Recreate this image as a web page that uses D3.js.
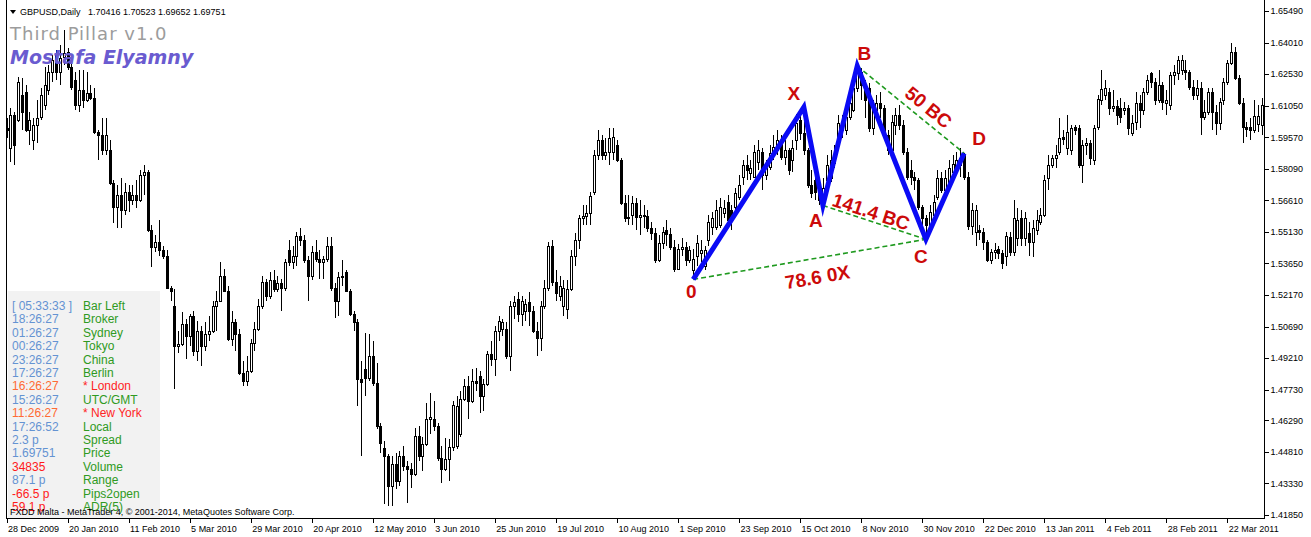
<!DOCTYPE html>
<html>
<head>
<meta charset="utf-8">
<script src="https://cdn.jsdelivr.net/npm/d3@7"></script>
<style>
  body { margin: 0; background: #fff; }
  svg { display: block; }
</style>
</head>
<body>
<svg id="chart" width="1311" height="537"></svg>
<script>
// GBPUSD daily bars, 28 Dec 2009 onwards
const openP = [
1.5999,1.5905,1.6060,1.6037,1.6154,1.6169,1.5990,1.5943,1.6013,1.6051,
1.6107,1.6178,1.6263,1.6342,1.6263,1.6333,1.6357,1.6286,1.6225,1.6107,
1.6178,1.6131,1.6164,1.6140,1.5981,1.5966,1.5896,1.5896,1.5741,1.5628,
1.5684,1.5614,1.5699,1.5661,1.5684,1.5661,1.5778,1.5793,1.5520,1.5440,
1.5464,1.5426,1.5402,1.5252,1.5167,1.4979,1.4989,1.5083,1.5026,1.5120,
1.4956,1.5050,1.4979,1.5036,1.5050,1.5167,1.5191,1.5308,1.5238,1.5012,
1.5088,1.5036,1.4853,1.4815,1.4862,1.4994,1.5059,1.5167,1.5276,1.5214,
1.5285,1.5247,1.5271,1.5252,1.5426,1.5370,1.5402,1.5492,1.5473,1.5379,
1.5308,1.5417,1.5388,1.5370,1.5388,1.5449,1.5252,1.5191,1.5299,1.5323,
1.5238,1.5130,1.5088,1.4824,1.4871,1.4829,1.4932,1.4806,1.4603,1.4500,
1.4462,1.4321,1.4425,1.4345,1.4462,1.4415,1.4401,1.4378,1.4556,1.4462,
1.4519,1.4636,1.4636,1.4603,1.4453,1.4401,1.4448,1.4505,1.4509,1.4566,
1.4730,1.4791,1.4721,1.4815,1.4838,1.4744,1.4801,1.4942,1.4918,1.5050,
1.5059,1.5059,1.4932,1.5167,1.5200,1.5130,1.5144,1.5182,1.5144,1.5050,
1.5017,1.5167,1.5252,1.5449,1.5276,1.5214,1.5167,1.5153,1.5247,1.5402,
1.5473,1.5576,1.5586,1.5600,1.5699,1.5872,1.5943,1.5872,1.5887,1.5887,
1.5919,1.5849,1.5647,1.5576,1.5590,1.5647,1.5581,1.5590,1.5586,1.5529,
1.5506,1.5379,1.5459,1.5520,1.5501,1.5440,1.5341,1.5435,1.5440,1.5379,
1.5332,1.5402,1.5412,1.5355,1.5473,1.5534,1.5534,1.5543,1.5600,1.5652,
1.5614,1.5628,1.5675,1.5769,1.5825,1.5788,1.5769,1.5840,1.5887,1.5778,
1.5816,1.5882,1.5896,1.5934,1.5863,1.5896,1.5849,1.5943,1.6037,1.5976,
1.5896,1.5731,1.5755,1.5699,1.5661,1.5755,1.5764,1.5835,1.5943,1.5990,
1.5990,1.6051,1.6084,1.6187,1.6263,1.6201,1.6187,1.5999,1.6084,1.6117,
1.6093,1.5966,1.5896,1.6013,1.6060,1.6013,1.5887,1.5802,1.5769,1.5755,
1.5628,1.5576,1.5543,1.5590,1.5675,1.5764,1.5708,1.5741,1.5793,1.5811,
1.5825,1.5872,1.5769,1.5539,1.5511,1.5520,1.5511,1.5464,1.5379,1.5417,
1.5435,1.5412,1.5402,1.5487,1.5417,1.5482,1.5576,1.5482,1.5506,1.5464,
1.5520,1.5557,1.5590,1.5764,1.5825,1.5858,1.5887,1.5957,1.5905,1.5896,
1.6004,1.5999,1.5825,1.5919,1.5929,1.5849,1.6004,1.6131,1.6154,1.6169,
1.6093,1.6103,1.6093,1.6084,1.6093,1.5976,1.6028,1.6117,1.6084,1.6169,
1.6258,1.6216,1.6131,1.6201,1.6117,1.6107,1.6249,1.6258,1.6272,1.6272,
1.6263,1.6192,1.6154,1.6187,1.6051,1.6075,1.6169,1.6075,1.6023,1.6131,
1.6216,1.6305,1.6357,1.6234,1.6117,1.6004,1.6004,1.5990,1.6018,1.6013
];
const highP = [
1.6046,1.6093,1.6075,1.6239,1.6234,1.6201,1.6075,1.6046,1.6131,1.6187,
1.6286,1.6295,1.6342,1.6366,1.6389,1.6460,1.6375,1.6319,1.6263,1.6272,
1.6272,1.6263,1.6201,1.6187,1.5990,1.6046,1.6046,1.5943,1.5755,1.5731,
1.5764,1.5741,1.5731,1.5731,1.5755,1.5802,1.5825,1.5802,1.5543,1.5496,
1.5567,1.5449,1.5426,1.5261,1.5247,1.5050,1.5135,1.5106,1.5130,1.5144,
1.5097,1.5073,1.5088,1.5120,1.5191,1.5238,1.5370,1.5341,1.5261,1.5144,
1.5106,1.5059,1.4909,1.4932,1.5012,1.5088,1.5200,1.5308,1.5294,1.5323,
1.5332,1.5308,1.5294,1.5388,1.5473,1.5449,1.5511,1.5529,1.5496,1.5402,
1.5449,1.5473,1.5426,1.5402,1.5487,1.5487,1.5271,1.5323,1.5379,1.5332,
1.5247,1.5144,1.5106,1.4909,1.5041,1.5036,1.5003,1.4900,1.4618,1.4533,
1.4472,1.4462,1.4477,1.4486,1.4509,1.4439,1.4430,1.4594,1.4603,1.4552,
1.4712,1.4759,1.4721,1.4618,1.4509,1.4547,1.4542,1.4721,1.4744,1.4768,
1.4824,1.4838,1.4871,1.4876,1.4862,1.4824,1.4956,1.5003,1.5073,1.5120,
1.5106,1.5088,1.5191,1.5214,1.5229,1.5214,1.5200,1.5229,1.5167,1.5088,
1.5191,1.5285,1.5464,1.5473,1.5332,1.5308,1.5285,1.5285,1.5426,1.5506,
1.5590,1.5637,1.5637,1.5699,1.5896,1.5990,1.5966,1.5952,1.5999,1.5999,
1.5943,1.5858,1.5684,1.5684,1.5680,1.5670,1.5661,1.5637,1.5614,1.5557,
1.5529,1.5496,1.5534,1.5567,1.5529,1.5473,1.5454,1.5482,1.5464,1.5449,
1.5435,1.5496,1.5473,1.5449,1.5590,1.5605,1.5661,1.5670,1.5661,1.5684,
1.5637,1.5717,1.5778,1.5849,1.5872,1.5849,1.5919,1.5943,1.5905,1.5849,
1.5919,1.5966,1.5990,1.5966,1.5943,1.5906,1.5943,1.6065,1.6084,1.6098,
1.5906,1.5802,1.5849,1.5731,1.5764,1.5872,1.5896,1.5919,1.6060,1.6060,
1.6093,1.6154,1.6225,1.6291,1.6281,1.6225,1.6211,1.6131,1.6154,1.6169,
1.6107,1.5990,1.6060,1.6093,1.6107,1.6037,1.5906,1.5849,1.5793,1.5764,
1.5637,1.5590,1.5637,1.5684,1.5802,1.5793,1.5802,1.5849,1.5872,1.5887,
1.5906,1.5882,1.5793,1.5647,1.5637,1.5543,1.5529,1.5473,1.5435,1.5459,
1.5449,1.5426,1.5511,1.5511,1.5661,1.5623,1.5614,1.5605,1.5557,1.5567,
1.5614,1.5623,1.5778,1.5872,1.5872,1.5919,1.6046,1.5990,1.6060,1.6013,
1.6013,1.6013,1.5943,1.5952,1.5943,1.6013,1.6154,1.6272,1.6225,1.6187,
1.6178,1.6131,1.6140,1.6122,1.6107,1.6060,1.6169,1.6154,1.6187,1.6249,
1.6263,1.6234,1.6272,1.6216,1.6178,1.6263,1.6295,1.6338,1.6342,1.6319,
1.6272,1.6225,1.6225,1.6216,1.6131,1.6187,1.6187,1.6107,1.6140,1.6234,
1.6319,1.6399,1.6380,1.6249,1.6140,1.6028,1.6046,1.6131,1.6107,1.6140
];
const lowP = [
1.5952,1.5840,1.5825,1.6028,1.5990,1.5981,1.5919,1.5896,1.5929,1.6037,
1.6084,1.6154,1.6216,1.6225,1.6201,1.6295,1.6272,1.6178,1.6084,1.6075,
1.6093,1.6122,1.6131,1.5971,1.5849,1.5872,1.5872,1.5731,1.5553,1.5529,
1.5529,1.5590,1.5605,1.5637,1.5623,1.5652,1.5684,1.5511,1.5346,1.5417,
1.5402,1.5388,1.5247,1.5191,1.4777,1.4947,1.4979,1.4918,1.4979,1.4932,
1.4909,1.4885,1.4956,1.5003,1.5041,1.5050,1.5182,1.5229,1.5003,1.4979,
1.4956,1.4843,1.4791,1.4791,1.4853,1.4956,1.5050,1.5153,1.5191,1.5200,
1.5229,1.5229,1.5144,1.5238,1.5355,1.5341,1.5355,1.5449,1.5365,1.5191,
1.5285,1.5370,1.5294,1.5294,1.5370,1.5238,1.5111,1.5120,1.5261,1.5229,
1.5120,1.5050,1.4697,1.4462,1.4744,1.4815,1.4791,1.4589,1.4477,1.4237,
1.4227,1.4227,1.4307,1.4321,1.4392,1.4242,1.4312,1.4368,1.4439,1.4392,
1.4509,1.4566,1.4580,1.4439,1.4336,1.4392,1.4345,1.4486,1.4495,1.4552,
1.4721,1.4636,1.4712,1.4768,1.4665,1.4674,1.4791,1.4885,1.4838,1.5003,
1.5026,1.4918,1.4862,1.5106,1.5088,1.5073,1.5097,1.5073,1.5041,1.4932,
1.4956,1.5153,1.5238,1.5261,1.5191,1.5191,1.5120,1.5106,1.5238,1.5355,
1.5435,1.5543,1.5543,1.5543,1.5684,1.5849,1.5849,1.5849,1.5825,1.5849,
1.5840,1.5637,1.5557,1.5543,1.5543,1.5520,1.5496,1.5529,1.5511,1.5473,
1.5365,1.5370,1.5435,1.5449,1.5426,1.5323,1.5332,1.5402,1.5355,1.5365,
1.5290,1.5355,1.5370,1.5332,1.5449,1.5496,1.5520,1.5529,1.5576,1.5543,
1.5520,1.5614,1.5661,1.5731,1.5755,1.5755,1.5778,1.5802,1.5708,1.5755,
1.5802,1.5849,1.5872,1.5849,1.5825,1.5778,1.5793,1.5896,1.5943,1.5872,
1.5717,1.5670,1.5661,1.5637,1.5637,1.5731,1.5745,1.5811,1.5919,1.5952,
1.5966,1.6037,1.6075,1.6169,1.6131,1.6046,1.5981,1.5966,1.6060,1.6046,
1.5952,1.5872,1.5887,1.5966,1.5990,1.5872,1.5755,1.5731,1.5708,1.5614,
1.5529,1.5478,1.5520,1.5543,1.5661,1.5694,1.5684,1.5717,1.5769,1.5793,
1.5769,1.5755,1.5520,1.5496,1.5445,1.5473,1.5426,1.5370,1.5360,1.5388,
1.5388,1.5341,1.5355,1.5402,1.5402,1.5449,1.5449,1.5449,1.5402,1.5397,
1.5496,1.5543,1.5581,1.5708,1.5811,1.5811,1.5872,1.5919,1.5872,1.5872,
1.5966,1.5811,1.5741,1.5872,1.5825,1.5825,1.5990,1.6107,1.6131,1.6060,
1.6075,1.6013,1.6023,1.6060,1.5966,1.5962,1.5990,1.5999,1.6060,1.6154,
1.6187,1.6107,1.6117,1.6084,1.6060,1.6084,1.6201,1.6225,1.6249,1.6225,
1.6178,1.6131,1.6131,1.5966,1.6037,1.6060,1.5990,1.5966,1.5990,1.6107,
1.6201,1.6295,1.6225,1.6107,1.5929,1.5957,1.5943,1.5976,1.5981,1.5966
];
const closeP = [
1.5990,1.6060,1.5919,1.6216,1.6075,1.5990,1.6037,1.6013,1.6046,1.6154,
1.6201,1.6263,1.6319,1.6263,1.6328,1.6352,1.6286,1.6192,1.6107,1.6178,
1.6131,1.6164,1.6140,1.5981,1.5966,1.5896,1.5966,1.5741,1.5628,1.5684,
1.5614,1.5699,1.5661,1.5684,1.5661,1.5778,1.5793,1.5520,1.5440,1.5464,
1.5426,1.5402,1.5252,1.5238,1.4979,1.4989,1.5083,1.5026,1.5120,1.4956,
1.5050,1.4979,1.5036,1.5050,1.5167,1.5191,1.5308,1.5238,1.5012,1.5088,
1.5036,1.4853,1.4815,1.4862,1.4994,1.5059,1.5167,1.5276,1.5214,1.5285,
1.5247,1.5271,1.5252,1.5370,1.5370,1.5402,1.5492,1.5473,1.5379,1.5308,
1.5417,1.5388,1.5370,1.5388,1.5445,1.5252,1.5191,1.5299,1.5304,1.5238,
1.5130,1.5088,1.4824,1.4810,1.4829,1.4932,1.4806,1.4603,1.4524,1.4462,
1.4321,1.4425,1.4345,1.4462,1.4415,1.4401,1.4378,1.4556,1.4462,1.4519,
1.4636,1.4646,1.4603,1.4453,1.4401,1.4448,1.4505,1.4702,1.4697,1.4730,
1.4791,1.4721,1.4815,1.4806,1.4744,1.4801,1.4942,1.4918,1.5050,1.5097,
1.5088,1.4932,1.5167,1.5182,1.5130,1.5191,1.5177,1.5144,1.5050,1.5017,
1.5167,1.5252,1.5449,1.5276,1.5224,1.5261,1.5252,1.5247,1.5402,1.5473,
1.5576,1.5586,1.5600,1.5680,1.5872,1.5943,1.5872,1.5887,1.5952,1.5957,
1.5849,1.5647,1.5576,1.5581,1.5647,1.5581,1.5590,1.5586,1.5529,1.5506,
1.5379,1.5459,1.5511,1.5501,1.5440,1.5341,1.5435,1.5440,1.5379,1.5426,
1.5388,1.5459,1.5426,1.5426,1.5557,1.5576,1.5614,1.5628,1.5623,1.5567,
1.5567,1.5694,1.5731,1.5825,1.5802,1.5811,1.5887,1.5896,1.5778,1.5811,
1.5882,1.5910,1.5943,1.5863,1.5896,1.5802,1.5905,1.6023,1.5976,1.5896,
1.5731,1.5694,1.5699,1.5661,1.5717,1.5825,1.5849,1.5872,1.6023,1.6013,
1.6051,1.6117,1.6187,1.6263,1.6201,1.6131,1.5999,1.6084,1.6117,1.6093,
1.5966,1.5896,1.6028,1.6060,1.6013,1.5887,1.5769,1.5769,1.5755,1.5628,
1.5576,1.5543,1.5605,1.5652,1.5764,1.5708,1.5764,1.5811,1.5830,1.5849,
1.5858,1.5769,1.5539,1.5614,1.5614,1.5511,1.5464,1.5379,1.5417,1.5426,
1.5412,1.5365,1.5492,1.5417,1.5576,1.5567,1.5482,1.5576,1.5464,1.5529,
1.5567,1.5590,1.5755,1.5825,1.5858,1.5872,1.5952,1.5948,1.5981,1.5999,
1.5990,1.5825,1.5919,1.5929,1.5858,1.5999,1.6136,1.6183,1.6187,1.6093,
1.6103,1.6060,1.6051,1.6093,1.5999,1.6023,1.6117,1.6084,1.6169,1.6225,
1.6216,1.6131,1.6201,1.6122,1.6131,1.6249,1.6263,1.6319,1.6319,1.6263,
1.6192,1.6154,1.6187,1.6051,1.6075,1.6169,1.6075,1.6023,1.6122,1.6216,
1.6305,1.6357,1.6234,1.6117,1.6004,1.5995,1.5990,1.6056,1.6056,1.6107
];

// time axis: one label every 16 bars
const dateLabels = ['28 Dec 2009','20 Jan 2010','11 Feb 2010','5 Mar 2010','29 Mar 2010','20 Apr 2010',
  '12 May 2010','3 Jun 2010','25 Jun 2010','19 Jul 2010','10 Aug 2010','1 Sep 2010','23 Sep 2010',
  '15 Oct 2010','8 Nov 2010','30 Nov 2010','22 Dec 2010','13 Jan 2011','4 Feb 2011','28 Feb 2011','22 Mar 2011'];
const dateLabelStep = 16;

// price axis labels
const priceTicks = [1.65490,1.64010,1.62530,1.61050,1.59570,1.58090,1.56610,1.55130,1.53650,
  1.52170,1.50690,1.49210,1.47730,1.46290,1.44810,1.43330,1.41850];

// harmonic pattern pivots (bar index and which extreme of that bar)
const patternNames = ['0','X','A','B','C','D'];
const patternBars  = [180, 209, 214, 223, 241, 251];
const patternSides = ['low','high','low','high','low','high'];

// ratio projections between pivots
const ratioText = ['78.6 0X','141.4 BC','50 BC'];
const ratioFrom = ['0','A','B'];
const ratioTo   = ['C','C','D'];

// info panel
const infoValues = ['[ 05:33:33 ]','18:26:27','01:26:27','00:26:27','23:26:27','17:26:27','16:26:27',
  '15:26:27','11:26:27','17:26:52','2.3 p','1.69751','34835','87.1 p','-66.5 p','59.1 p'];
const infoNames = ['Bar Left','Broker','Sydney','Tokyo','China','Berlin','* London','UTC/GMT',
  '* New York','Local','Spread','Price','Volume','Range','Pips2open','ADR(5)'];

const symbolTitle = 'GBPUSD,Daily';
const lastQuote = '1.70416 1.70523 1.69652 1.69751';
const footerText = 'FXDD Malta - MetaTrader 4, \u00A9 2001-2014, MetaQuotes Software Corp.';

const FONT = '"Liberation Sans", Arial, sans-serif';
const svg = d3.select('#chart');
const N = closeP.length;

const plotLeft = 6.5, plotRight = 1264.5, plotBottom = 518.5, barStep = 3.815;
const x = d3.scaleLinear().domain([0, N - 1]).range([plotLeft, plotLeft + barStep * (N - 1)]);
const y = d3.scaleLinear().domain([1.4185, 1.6549]).range([515, 11]);

const bars = d3.range(N).map(i => ({ i, o: openP[i], h: highP[i], l: lowP[i], c: closeP[i] }));

// frame
const frame = svg.append('g').attr('stroke', '#000').attr('shape-rendering', 'crispEdges');
frame.append('line').attr('x1', plotLeft).attr('x2', plotLeft).attr('y1', 0).attr('y2', plotBottom);
frame.append('line').attr('x1', plotRight).attr('x2', plotRight).attr('y1', 0).attr('y2', plotBottom);
frame.append('line').attr('x1', plotLeft).attr('x2', plotRight).attr('y1', plotBottom).attr('y2', plotBottom);

// candles
const cg = svg.append('g').attr('shape-rendering', 'crispEdges');
const px = d => Math.round(x(d.i));
cg.selectAll('line.wick').data(bars).join('line').attr('class', 'wick')
  .attr('x1', d => px(d) + 0.5).attr('x2', d => px(d) + 0.5)
  .attr('y1', d => y(Math.max(d.h, d.o, d.c))).attr('y2', d => y(Math.min(d.l, d.o, d.c)))
  .attr('stroke', '#000');
cg.selectAll('rect.body').data(bars).join('rect').attr('class', 'body')
  .attr('x', d => px(d) - 0.5).attr('width', 2)
  .attr('y', d => Math.round(y(Math.max(d.o, d.c))) + 0.5)
  .attr('height', d => Math.max(0, Math.round(y(Math.min(d.o, d.c))) - Math.round(y(Math.max(d.o, d.c)))))
  .attr('fill', d => d.c >= d.o ? '#fff' : '#000')
  .attr('stroke', '#000');

// price axis
const yAxis = d3.axisRight(y).tickValues(priceTicks).tickFormat(d => d.toFixed(5)).tickSize(4).tickPadding(2);
svg.append('g').attr('transform', `translate(${plotRight},0)`).call(yAxis)
  .attr('font-family', FONT).attr('font-size', 9)
  .call(g => g.select('.domain').remove())
  .call(g => g.selectAll('.tick line').attr('stroke', '#000').attr('shape-rendering', 'crispEdges'))
  .call(g => g.selectAll('.tick text').attr('fill', '#000'));

// time axis
const xAxis = d3.axisBottom(x)
  .tickValues(dateLabels.map((_, k) => k * dateLabelStep))
  .tickFormat(d => dateLabels[d / dateLabelStep])
  .tickSize(4).tickPadding(3);
svg.append('g').attr('transform', `translate(0,${plotBottom})`).call(xAxis)
  .attr('font-family', FONT).attr('font-size', 9)
  .call(g => g.select('.domain').remove())
  .call(g => g.selectAll('.tick line').attr('stroke', '#000').attr('shape-rendering', 'crispEdges'))
  .call(g => g.selectAll('.tick text').attr('fill', '#000').attr('text-anchor', 'start').attr('dx', 1));

// pattern pivots
const pts = patternNames.map((name, k) => {
  const b = patternBars[k];
  const price = patternSides[k] === 'high' ? highP[b] : lowP[b];
  return { name, x: x(b), y: y(price) };
});
const byName = Object.fromEntries(pts.map(p => [p.name, p]));

// dashed projection lines
const pg = svg.append('g');
ratioFrom.forEach((f, k) => {
  const a = byName[f], b = byName[ratioTo[k]];
  pg.append('line').attr('x1', a.x).attr('y1', a.y).attr('x2', b.x).attr('y2', b.y)
    .attr('stroke', '#1f9a1f').attr('stroke-width', 1.6).attr('stroke-dasharray', '5,3');
});

// zigzag
pg.append('path').datum(pts)
  .attr('d', d3.line().x(d => d.x).y(d => d.y))
  .attr('fill', 'none').attr('stroke', '#0a0af5').attr('stroke-width', 5)
  .attr('stroke-linejoin', 'miter').attr('stroke-miterlimit', 6);

// pivot letters
const letterOffset = { '0': [-2, 19], 'X': [-10, -7], 'A': [-7, 22], 'B': [7, -6], 'C': [-5, 24], 'D': [15, -8] };
pg.selectAll('text.pivot').data(pts).join('text').attr('class', 'pivot')
  .attr('x', d => d.x + letterOffset[d.name][0]).attr('y', d => d.y + letterOffset[d.name][1])
  .attr('text-anchor', 'middle').attr('font-family', FONT).attr('font-weight', 'bold')
  .attr('font-size', 19).attr('fill', '#cc0a0a').text(d => d.name);

// ratio labels placed along their segment
const ratioPlace = [[0.52, 19], [0.44, -9], [0.59, -13]];
ratioText.forEach((t, k) => {
  const a = byName[ratioFrom[k]], b = byName[ratioTo[k]];
  const dx = b.x - a.x, dy = b.y - a.y, len = Math.hypot(dx, dy);
  const ux = dx / len, uy = dy / len;
  const [s, n] = ratioPlace[k];
  const cx = a.x + dx * s - uy * n, cy = a.y + dy * s + ux * n;
  const ang = Math.atan2(dy, dx) * 180 / Math.PI;
  pg.append('text').attr('transform', `translate(${cx},${cy}) rotate(${ang})`)
    .attr('text-anchor', 'middle').attr('dominant-baseline', 'central')
    .attr('font-family', FONT).attr('font-weight', 'bold').attr('font-size', 19)
    .attr('fill', '#cc0a0a').text(t);
});

// header
svg.append('path').attr('d', 'M10,10 L16,10 L13,14 Z').attr('fill', '#000');
svg.append('text').attr('x', 20).attr('y', 15).attr('font-family', FONT).attr('font-size', 9)
  .attr('fill', '#000').text(symbolTitle);
svg.append('text').attr('x', 88).attr('y', 15).attr('font-family', FONT).attr('font-size', 9)
  .attr('fill', '#000').text(lastQuote);
svg.append('text').attr('x', 10).attr('y', 40).attr('font-family', '"DejaVu Sans", sans-serif')
  .attr('font-size', 18).attr('letter-spacing', 1).attr('fill', '#9c9c9c').text('Third Pillar v1.0');
svg.append('text').attr('x', 10).attr('y', 64).attr('font-family', '"DejaVu Sans", sans-serif')
  .attr('font-size', 19).attr('font-weight', 'bold').attr('font-style', 'italic')
  .attr('fill', '#6a5bd0').text('Mostafa Elyamny');

// info panel
const panel = svg.append('g');
panel.append('rect').attr('x', 8).attr('y', 291).attr('width', 152).attr('height', 227).attr('fill', '#f2f2f2');
const sessionRows = new Set(['* London', '* New York']);
const alertRows = new Set(['Volume', 'Pips2open', 'ADR(5)']);
infoNames.forEach((name, k) => {
  const yy = 310 + k * 13.4;
  const valColor = sessionRows.has(name) ? '#ff6a33' : alertRows.has(name) ? '#ff1a1a' : '#6493d2';
  const nameColor = sessionRows.has(name) ? '#ff2424' : '#2f9a22';
  panel.append('text').attr('x', 12).attr('y', yy).attr('font-family', FONT).attr('font-size', 12)
    .attr('fill', valColor).text(infoValues[k]);
  panel.append('text').attr('x', 83).attr('y', yy).attr('font-family', FONT).attr('font-size', 12)
    .attr('fill', nameColor).text(name);
});

// footer
svg.append('text').attr('x', 10).attr('y', 515).attr('font-family', FONT).attr('font-size', 9)
  .attr('fill', '#000').text(footerText);
</script>
</body>
</html>
